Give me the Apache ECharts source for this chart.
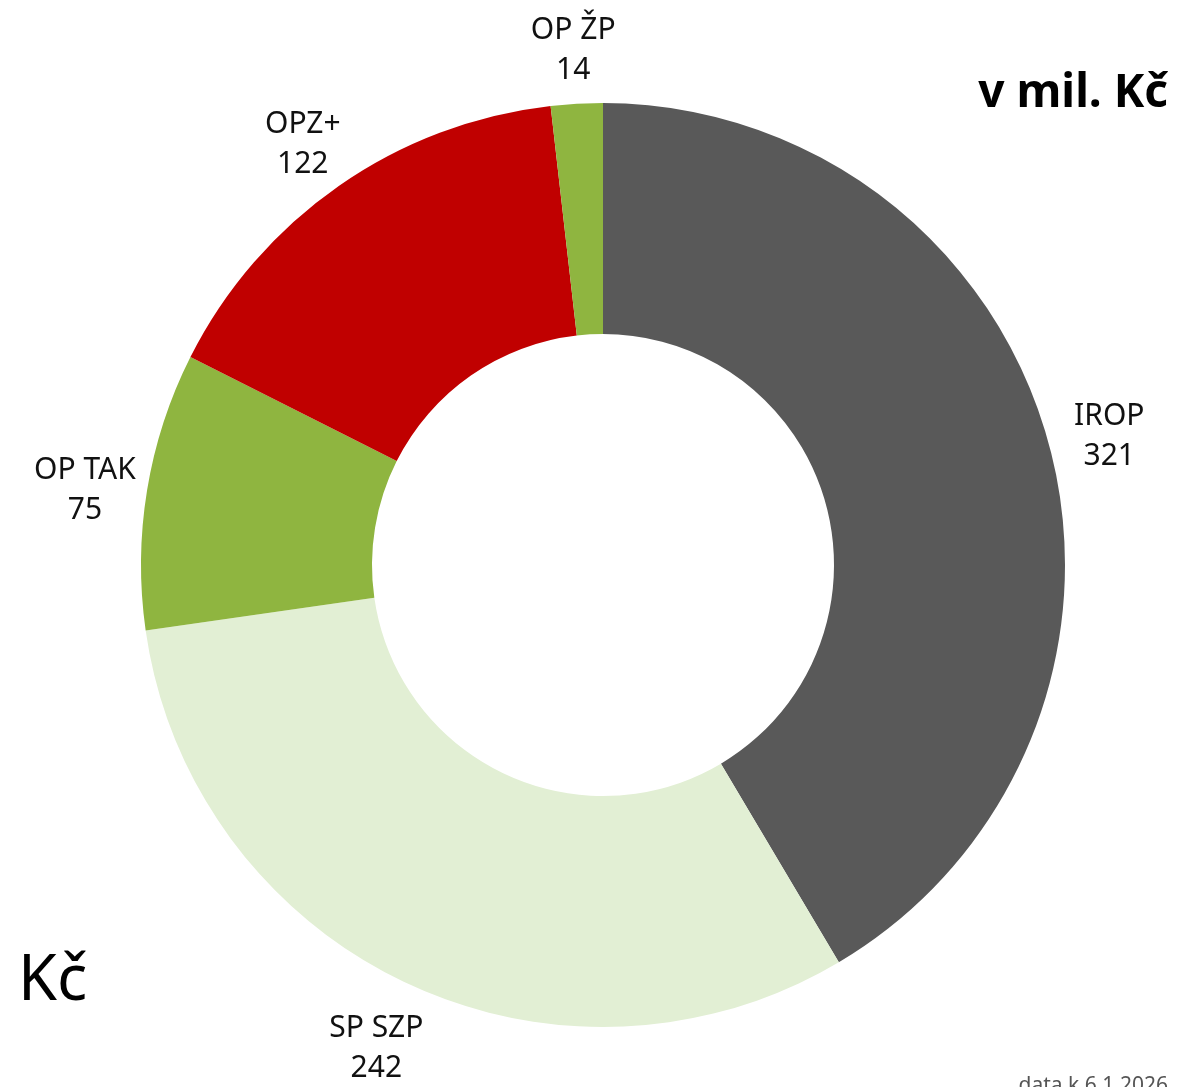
<!DOCTYPE html>
<html>
<head>
<meta charset="utf-8">
<script src="https://cdn.jsdelivr.net/npm/echarts@6/dist/echarts.min.js"></script>
<style>
  html, body { margin: 0; padding: 0; background: #fff; }
  #container { width: 1179px; height: 1087px; }
</style>
</head>
<body>
<div id="container"></div>
<script>
    var names = ['IROP', 'SP SZP', 'OP TAK', 'OPZ+', 'OP ŽP'];
    var values = [321, 242, 75, 122, 14];
    var colors = ['#595959', '#e2efd4', '#8fb540', '#c00000', '#8fb540'];

    var dom = document.getElementById('container');
    var myChart = echarts.init(dom);
    var font = 'Noto Sans';

    var data = names.map(function (n, i) {
        return { name: n, value: values[i], itemStyle: { color: colors[i] } };
    });
    // same slices, transparent, only used to place the labels just outside the ring
    var labelData = names.map(function (n, i) {
        return { name: n, value: values[i], itemStyle: { color: 'transparent' } };
    });

    var option = {
        animation: false,
        title: [{
            text: 'v mil. Kč',
            right: 6,
            top: 66,
            textStyle: { fontFamily: font, fontSize: 46, fontWeight: 'bold', color: '#000' }
        }, {
            text: 'Kč',
            left: 13,
            top: 946,
            textStyle: { fontFamily: font, fontSize: 63, fontWeight: 'normal', color: '#000' }
        }, {
            text: 'data k 6.1.2026',
            right: 6,
            top: 1071,
            textStyle: { fontFamily: font, fontSize: 21, fontWeight: 'normal', color: '#555' }
        }],
        series: [{
            type: 'pie',
            center: [603, 565],
            radius: [231, 462],
            startAngle: 90,
            clockwise: true,
            silent: true,
            label: { show: false },
            labelLine: { show: false },
            data: data
        }, {
            type: 'pie',
            center: [603, 565],
            radius: [462, 582],
            startAngle: 90,
            clockwise: true,
            silent: true,
            label: {
                show: true,
                position: 'inside',
                formatter: '{b}\n{c}',
                fontFamily: font,
                fontSize: 30,
                lineHeight: 40,
                offset: [0, 10],
                color: '#111',
                align: 'center'
            },
            labelLine: { show: false },
            data: labelData
        }]
    };

    myChart.setOption(option);
</script>
</body>
</html>
